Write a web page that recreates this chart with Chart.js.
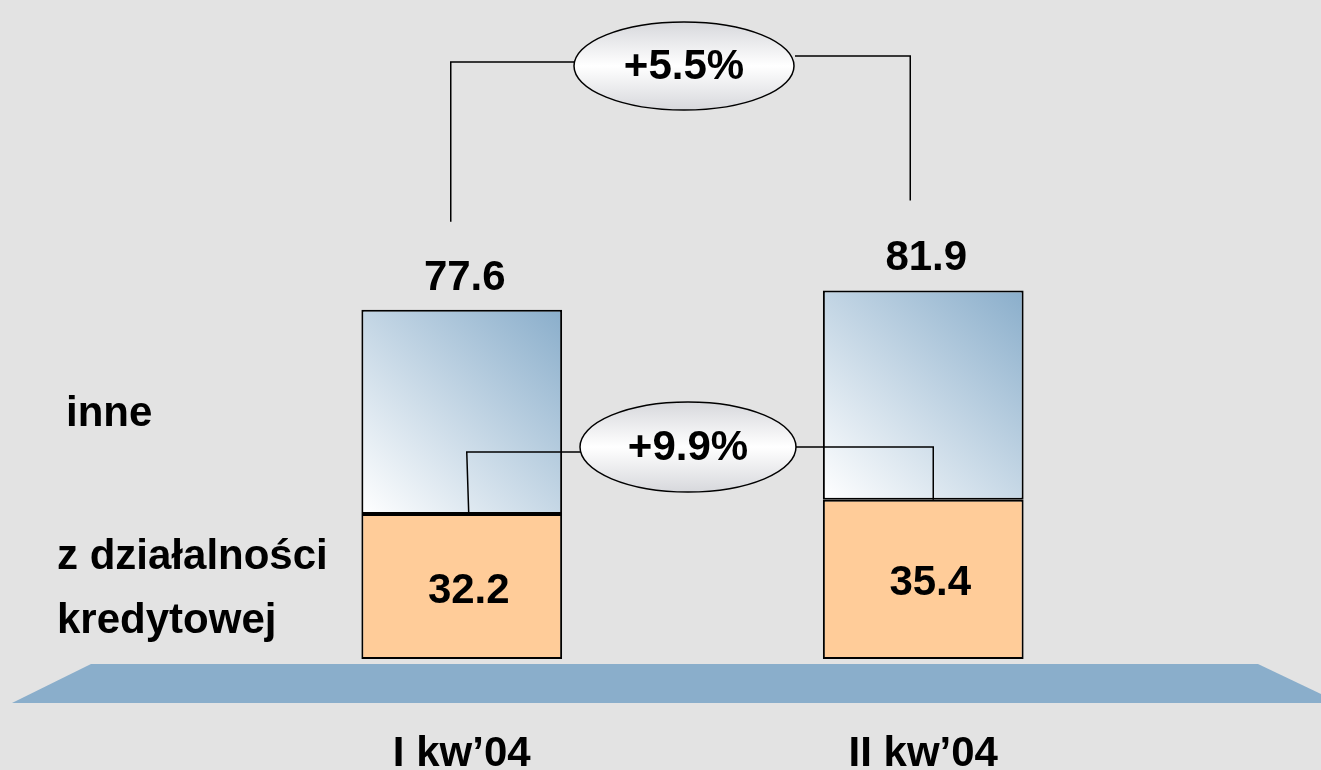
<!DOCTYPE html>
<html>
<head>
<meta charset="utf-8">
<script src="https://cdn.jsdelivr.net/npm/chart.js"></script>
<style>
    body { margin: 0; background: #e3e3e3; }
</style>
</head>
<body>
<canvas id="myChart" width="1321" height="770"></canvas>
<script>
// dane (mld zl)
var quarters = ["I kw\u201904", "II kw\u201904"];
var kredytowej = [32.2, 35.4];     // z dzialalnosci kredytowej
var inne = [45.4, 46.5];           // inne
var totals = ["77.6", "81.9"];
var growthTotal = "+5.5%";
var growthKred = "+9.9%";

var FONT = "bold 42px 'Liberation Sans', Arial, sans-serif";

// gradient dla gornej czesci slupka
function blueFill(ctx) {
    var chart = ctx.chart;
    if (!chart.chartArea) return "#b8cde0";
    var x = chart.scales.x.getPixelForValue(ctx.dataIndex);
    var y = chart.scales.y;
    var top = y.getPixelForValue(kredytowej[ctx.dataIndex] + inne[ctx.dataIndex]);
    var bottom = y.getPixelForValue(kredytowej[ctx.dataIndex]);
    var g = chart.ctx.createLinearGradient(x - 100, bottom, x + 100, top);
    g.addColorStop(0, "#ffffff");
    g.addColorStop(1, "#8aaecb");
    return g;
}

function ellipse(c, cx, cy, rx, ry, text) {
    var g = c.createLinearGradient(0, cy - ry, 0, cy + ry);
    g.addColorStop(0, "#d7d8dc");
    g.addColorStop(0.5, "#ffffff");
    g.addColorStop(1, "#d7d8dc");
    c.beginPath();
    c.ellipse(cx, cy, rx, ry, 0, 0, Math.PI * 2);
    c.fillStyle = g;
    c.fill();
    c.lineWidth = 1.5;
    c.strokeStyle = "#000";
    c.stroke();
    c.fillStyle = "#000";
    c.textAlign = "center";
    c.textBaseline = "alphabetic";
    c.font = FONT;
    c.fillText(text, cx, cy + 13);
}

function path(c, pts) {
    c.beginPath();
    c.moveTo(pts[0][0], pts[0][1]);
    for (let i = 1; i < pts.length; i++) {
        c.lineTo(pts[i][0], pts[i][1]);
    }
    c.lineWidth = 1.5;
    c.strokeStyle = "#000";
    c.stroke();
}

const decor = {
    id: "decor",
    beforeDraw(chart) {
        var c = chart.ctx;
        var b = chart.chartArea.bottom;
        c.save();
        c.fillStyle = "#e3e3e3";
        c.fillRect(0, 0, chart.width, chart.height);
        // podloga
        c.beginPath();
        c.moveTo(91, b + 5);
        c.lineTo(1258, b + 5);
        c.lineTo(1340, b + 44);
        c.lineTo(12, b + 44);
        c.closePath();
        c.fillStyle = "#8aaecb";
        c.fill();
        c.restore();
    },
    afterDatasetsDraw(chart) {
        var c = chart.ctx;
        var low = chart.getDatasetMeta(0).data;
        var up = chart.getDatasetMeta(1).data;
        c.save();
        c.fillStyle = "#000";
        c.font = FONT;
        c.textAlign = "center";
        c.textBaseline = "alphabetic";

        for (let i = 0; i < quarters.length; i++) {
            c.fillText(totals[i], up[i].x + 3, up[i].y - 20);
            c.fillText(kredytowej[i].toFixed(1), low[i].x + 7, (low[i].y + low[i].base) / 2 + 16);
            c.fillText(quarters[i], low[i].x, 766);
        }

        // opisy po lewej
        c.textAlign = "left";
        c.fillText("inne", 66, (up[0].y + up[0].base) / 2 + 14);
        var mid = (low[0].y + low[0].base) / 2;
        c.fillText("z dzia\u0142alno\u015bci", 57, mid - 18);
        c.fillText("kredytowej", 57, mid + 46);

        // laczniki
        path(c, [[575, 62], [up[0].x - 11, 62], [up[0].x - 11, up[0].y - 88]]);
        path(c, [[795, 56], [up[1].x - 13, 56], [up[1].x - 13, up[1].y - 90]]);
        path(c, [[581, 452], [low[0].x + 5, 452], [low[0].x + 7, low[0].y]]);
        path(c, [[796, 447], [low[1].x + 10, 447], [low[1].x + 10, low[1].y]]);

        ellipse(c, 684, 66, 110, 44, growthTotal);
        ellipse(c, 688, 447, 108, 45, growthKred);
        c.restore();
    }
};

let myChart = document.getElementById("myChart").getContext("2d");

const barChart = new Chart(myChart, {
    type: "bar",
    data: {
        labels: quarters,
        datasets: [{
            label: "z dzialalnosci kredytowej",
            data: kredytowej,
            backgroundColor: "#ffcc99",
            borderColor: "#000",
            borderWidth: 2,
            borderSkipped: false
        }, {
            label: "inne",
            data: inne,
            backgroundColor: blueFill,
            borderColor: "#000",
            borderWidth: 2,
            borderSkipped: false
        }]
    },
    options: {
        responsive: false,
        animation: false,
        layout: {
            padding: { top: 29, bottom: 111, left: 231, right: 167 }
        },
        datasets: {
            bar: { categoryPercentage: 1, barPercentage: 0.435 }
        },
        scales: {
            x: { stacked: true, display: false },
            y: { stacked: true, display: false, min: 0, max: 140 }
        },
        plugins: {
            legend: { display: false },
            tooltip: { enabled: false }
        }
    },
    plugins: [decor]
});
</script>
</body>
</html>
